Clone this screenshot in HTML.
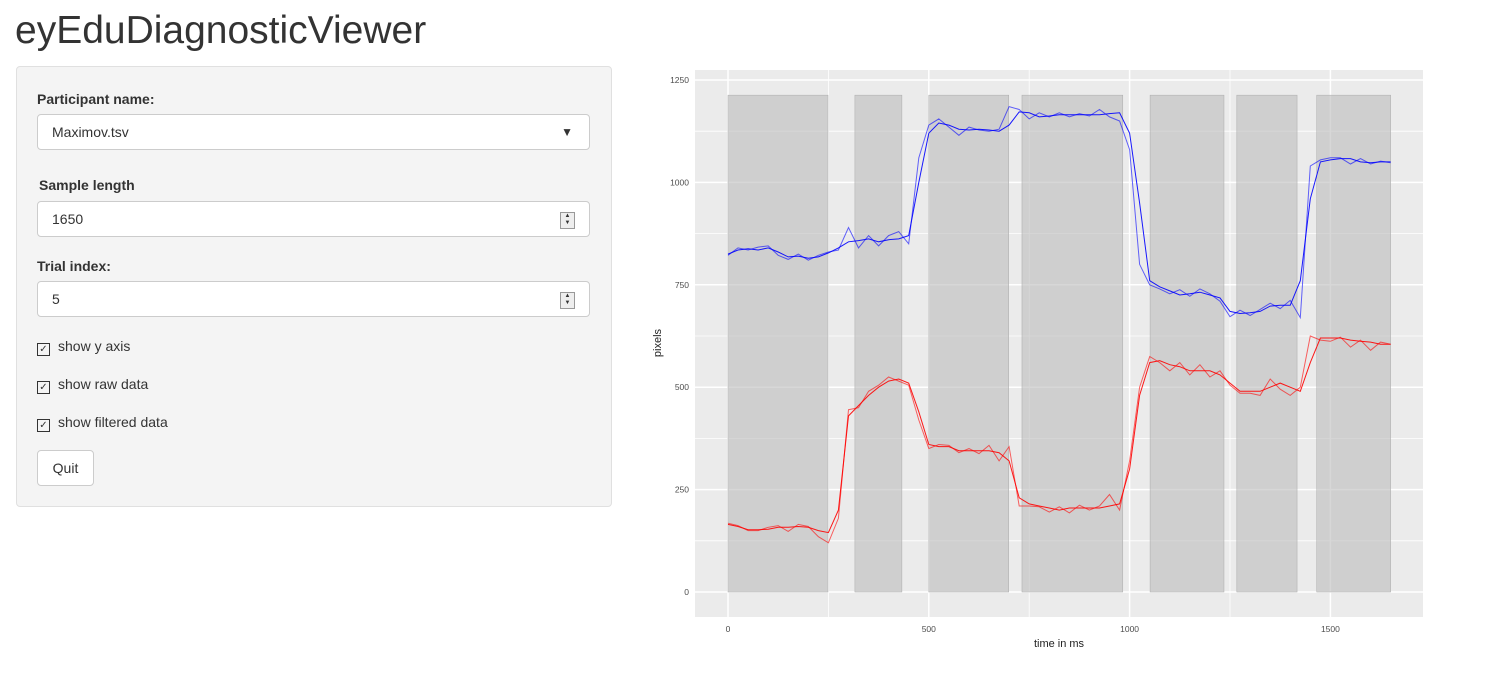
<!DOCTYPE html>
<html><head><meta charset="utf-8">
<style>
body{margin:0;width:1486px;height:684px;background:#fff;font-family:"Liberation Sans",Arial,sans-serif;color:#333;position:relative;overflow:hidden}
h1{position:absolute;left:15px;top:9px;margin:0;font-size:39px;font-weight:normal;color:#333}
.panel{position:absolute;left:16px;top:66px;width:594px;height:439px;background:#f4f4f4;border:1px solid #e0e0e0;border-radius:4px}
.lbl{position:absolute;font-weight:bold;font-size:14px;color:#333}
.inp{position:absolute;left:20px;width:553px;height:36px;background:#fff;border:1px solid #ccc;border-radius:4px;font-size:14px;line-height:35px;padding-left:14px;box-sizing:border-box}
.cb{position:absolute;left:20px;font-size:14px}
.cb span.box{display:inline-block;width:11px;height:11px;border:1px solid #333;vertical-align:-1px;margin-right:8px;font-size:10px;line-height:11px;text-align:center}
.btn{position:absolute;left:20px;top:383px;width:57px;height:36px;background:#fff;border:1px solid #ccc;border-radius:4px;font-size:14px;line-height:35px;text-align:center;box-sizing:border-box}
.spin{position:absolute;right:14px;top:10px;width:13px;height:15px;border:1px solid #999;font-size:6px;line-height:7px;text-align:center;background:#eee}
</style></head><body>
<h1>eyEduDiagnosticViewer</h1>
<div class="panel">
 <div class="lbl" style="left:20px;top:24px">Participant name:</div>
 <div class="inp" style="top:47px">Maximov.tsv<span style="position:absolute;right:16px;top:0;font-size:12px">&#9660;</span></div>
 <div class="lbl" style="left:22px;top:110px">Sample length</div>
 <div class="inp" style="top:134px">1650<div class="spin">▲<br>▼</div></div>
 <div class="lbl" style="left:20px;top:191px">Trial index:</div>
 <div class="inp" style="top:214px">5<div class="spin">▲<br>▼</div></div>
 <div class="cb" style="top:271px"><span class="box">✓</span>show y axis</div>
 <div class="cb" style="top:309px"><span class="box">✓</span>show raw data</div>
 <div class="cb" style="top:347px"><span class="box">✓</span>show filtered data</div>
 <div class="btn">Quit</div>
</div>
<svg id="chart" width="1486" height="684" style="position:absolute;left:0;top:0"></svg>
<script>
const times=[];for(let t=0;t<=1650;t+=25)times.push(t);
const fixStart=[0,316,500,732,1051,1267,1466];
const fixEnd=[249,433,699,983,1235,1417,1650];
const fixHeight=1213;
const xTicks=[0,500,1000,1500];
const yTicks=[0,250,500,750,1000,1250];
const blueFilt=[825,835,838,835,840,830,818,820,815,818,828,840,855,858,862,855,860,862,870,1000,1120,1145,1140,1130,1128,1130,1128,1125,1140,1172,1170,1160,1162,1165,1165,1165,1165,1165,1168,1170,1120,950,760,745,735,725,728,732,725,718,685,680,682,685,698,700,700,760,960,1050,1055,1058,1058,1050,1048,1050,1050];
const blueRaw=[822,840,835,842,845,822,812,825,810,822,830,835,890,840,870,845,870,880,850,1060,1140,1155,1135,1115,1135,1128,1125,1130,1185,1178,1155,1170,1160,1170,1160,1168,1162,1178,1160,1150,1080,800,750,740,728,738,722,740,728,710,672,688,675,690,705,692,712,670,1040,1055,1060,1060,1045,1058,1045,1052,1048];
const redFilt=[165,160,152,152,153,158,158,160,158,150,145,200,430,455,480,500,515,520,510,440,360,355,355,345,345,345,345,340,320,230,215,210,205,200,205,205,205,205,210,215,300,480,560,565,555,550,540,540,540,530,510,490,490,490,500,510,500,490,560,620,620,620,615,612,610,605,605];
const redRaw=[168,162,150,150,158,162,148,165,160,135,120,180,445,450,490,505,525,515,505,420,350,360,358,340,350,338,358,320,355,210,210,208,195,208,193,212,200,210,238,200,320,500,575,560,540,560,530,555,525,540,505,485,485,480,520,495,480,500,625,615,612,622,598,615,590,610,605];
const X=v=>728+v*0.4016, Y=v=>592-v*0.4096;
const svg=document.getElementById('chart'),NS='http://www.w3.org/2000/svg';
function mk(tag,at){const e=document.createElementNS(NS,tag);for(const k in at)e.setAttribute(k,at[k]);svg.appendChild(e);return e;}
let e=mk('rect',{x:695,y:70,width:728,height:547,fill:'#ebebeb'});


for(let i=0;i<xTicks.length;i++){
 const m=xTicks[i]+250;
 if(m<1800){e=mk('line',{x1:X(m),x2:X(m),y1:70,y2:617,stroke:'#fff','stroke-width':0.8});
 
 }
 e=mk('line',{x1:X(xTicks[i]),x2:X(xTicks[i]),y1:70,y2:617,stroke:'#fff','stroke-width':1.5});
 
 
 e=mk('text',{x:X(xTicks[i]),y:632,'font-size':8.5,fill:'#4d4d4d','text-anchor':'middle'});e.textContent=xTicks[i];
 
 
}
for(let i=0;i<yTicks.length;i++){
 if(i<yTicks.length-1){e=mk('line',{x1:695,x2:1423,y1:Y(yTicks[i]+125),y2:Y(yTicks[i]+125),stroke:'#fff','stroke-width':0.8});
 
 }
 e=mk('line',{x1:695,x2:1423,y1:Y(yTicks[i]),y2:Y(yTicks[i]),stroke:'#fff','stroke-width':1.5});
 
 
 e=mk('text',{x:689,y:Y(yTicks[i])+3,'font-size':8.5,fill:'#4d4d4d','text-anchor':'end'});e.textContent=yTicks[i];
 
 
}
for(let i=0;i<fixStart.length;i++){
 e=mk('rect',{x:X(fixStart[i]),y:Y(fixHeight),width:X(fixEnd[i])-X(fixStart[i]),height:Y(0)-Y(fixHeight),fill:'#bdbdbd','fill-opacity':0.6,stroke:'#aaa','stroke-width':0.5});
 
 
}
function line(vals,col,op,name){
 const d=vals.map((v,i)=>(i?'L':'M')+X(times[i]).toFixed(1)+','+Y(v).toFixed(1)).join('');
 const p=mk('path',{d:d,fill:'none',stroke:col,'stroke-opacity':op,'stroke-width':1});
 
 
}
line(blueRaw,'#0000ff',0.6,'x-raw-line');
line(blueFilt,'#0000ff',0.9,'x-filtered-line');
line(redRaw,'#ff0000',0.6,'y-raw-line');
line(redFilt,'#ff0000',0.9,'y-filtered-line');
e=mk('text',{x:1059,y:647,'font-size':11,fill:'#222','text-anchor':'middle'});e.textContent='time in ms';


e=mk('text',{x:661,y:343,'font-size':11,fill:'#222','text-anchor':'middle',transform:'rotate(-90 661 343)'});e.textContent='pixels';


</script>
</body></html>
